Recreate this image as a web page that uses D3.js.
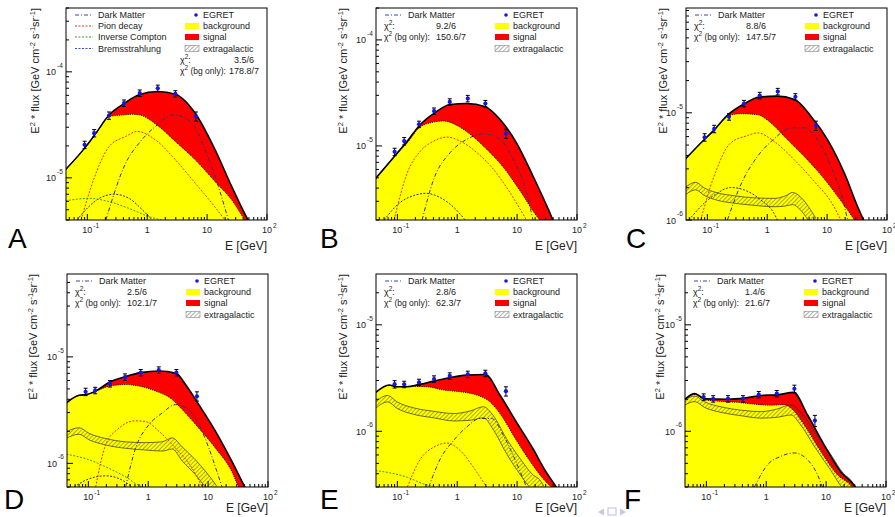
<!doctype html>
<html lang="en">
<head>
<meta charset="UTF-8">
<title>EGRET diffuse gamma spectra</title>
<script src="https://cdnjs.cloudflare.com/ajax/libs/d3/7.8.5/d3.min.js"></script>
<style>
    body { margin: 0; background: #fff; }
    svg text { font-family: "Liberation Sans", Arial, Helvetica, sans-serif; fill: #222; }
</style>
</head>
<body>
<div id="Area"></div>
<script>
    // ---- data (E in GeV, E^2*flux in GeV cm^-2 s^-1 sr^-1) ----
    const panelIds = ["A", "B", "C", "D", "E", "F"];
    const yMin = [4e-6, 2e-6, 1e-6, 6e-7, 3e-7, 3e-7];
    const yMax = [4e-4, 2e-4, 9.5e-5, 6e-5, 3e-5, 3e-5];
    const chi2Fit = ["3.5/6", "9.2/6", "8.8/6", "2.5/6", "2.8/6", "1.4/6"];
    const chi2Bg = ["178.8/7", "150.6/7", "147.5/7", "102.1/7", "62.3/7", "21.6/7"];
    const xTicks = [0.1, 1, 10, 100];
    const xTickLabels = [["10", "-1"], ["1", ""], ["10", ""], ["10", "2"]];

    const egretE = [0.09, 0.13, 0.23, 0.41, 0.75, 1.5, 2.95, 6.5];
    const egretA = [2.05e-5, 2.64e-5, 3.87e-5, 5.07e-5, 6.3e-5, 7.0e-5, 6.2e-5, 3.8e-5];
    const egretB = [8.8e-6, 1.11e-5, 1.6e-5, 2.13e-5, 2.6e-5, 2.8e-5, 2.51e-5, 1.31e-5];
    const egretC = [5.91e-6, 7.08e-6, 9.17e-6, 1.22e-5, 1.45e-5, 1.58e-5, 1.41e-5, 7.6e-6];
    const egretD = [4.7e-6, 4.84e-6, 5.6e-6, 6.47e-6, 7.11e-6, 7.53e-6, 7.11e-6, 4.27e-6];
    const egretEE = [2.77e-6, 2.76e-6, 2.88e-6, 3.1e-6, 3.31e-6, 3.43e-6, 3.5e-6, 2.38e-6];
    const egretF = [2.1e-6, 2.02e-6, 2.02e-6, 2.02e-6, 2.21e-6, 2.26e-6, 2.51e-6, 1.26e-6];
    // relative error bars
    const errA = [0.08, 0.08, 0.08, 0.07, 0.07, 0.07, 0.07, 0.1];
    const errB = [0.08, 0.08, 0.07, 0.07, 0.07, 0.07, 0.07, 0.1];
    const errC = [0.08, 0.08, 0.07, 0.07, 0.07, 0.07, 0.07, 0.1];
    const errD = [0.08, 0.07, 0.07, 0.07, 0.07, 0.07, 0.07, 0.1];
    const errE = [0.08, 0.07, 0.07, 0.07, 0.07, 0.07, 0.07, 0.1];
    const errF = [0.07, 0.07, 0.07, 0.07, 0.07, 0.07, 0.08, 0.12];

    // panel A
    const totalA = [[0.043, 1.19e-5], [0.095, 1.98e-5], [0.139, 2.64e-5], [0.232, 3.93e-5], [0.421, 5.06e-5], [0.728, 6.07e-5], [1.5, 6.52e-5], [2.95, 6.15e-5], [6.33, 4.07e-5], [13.6, 1.84e-5], [25.7, 8.3e-6], [48.4, 4.0e-6], [60, 3.3e-6]];
    const bgA = [[0.043, 1.19e-5], [0.095, 1.98e-5], [0.139, 2.6e-5], [0.232, 3.79e-5], [0.421, 3.93e-5], [0.563, 3.98e-5], [0.728, 3.93e-5], [1.56, 3.05e-5], [2.95, 2.2e-5], [6.33, 1.48e-5], [13.6, 9.2e-6], [25.7, 6.2e-6], [42.7, 4.0e-6], [55, 3.3e-6]];
    const dmA = [[0.204, 4e-6], [0.438, 1.38e-5], [0.728, 2.12e-5], [1.37, 3.05e-5], [2.77, 3.93e-5], [5.57, 3.28e-5], [9.27, 1.84e-5], [15.4, 8.3e-6], [22.6, 4e-6]];
    const pionA = [[0.0785, 4e-6], [0.139, 1.1e-5], [0.232, 1.98e-5], [0.438, 2.46e-5], [0.683, 2.74e-5], [1.37, 2.28e-5], [2.95, 1.48e-5], [6.33, 8.9e-6], [11.9, 5.8e-6], [19.9, 4e-6]];
    const icA = [[0.043, 6.07e-6], [0.108, 6.4e-6], [0.232, 5.95e-6], [0.563, 5e-6], [1.07, 4.3e-6], [1.77, 4e-6]];
    const bremsA = [[0.0666, 4e-6], [0.108, 5.4e-6], [0.158, 6.4e-6], [0.281, 7.0e-6], [0.497, 6.4e-6], [0.826, 5e-6], [1.21, 4e-6]];

    // panel B
    const totalB = [[0.043, 4.9e-6], [0.096, 8.35e-6], [0.147, 1.11e-5], [0.234, 1.56e-5], [0.42, 2.05e-5], [0.766, 2.46e-5], [1.445, 2.51e-5], [2.95, 2.34e-5], [5.16, 1.78e-5], [9.75, 1.07e-5], [18.4, 5.2e-6], [34.8, 2.37e-6], [39.5, 2.0e-6], [48, 1.6e-6]];
    const bgB = [[0.043, 4.9e-6], [0.096, 8.35e-6], [0.147, 1.07e-5], [0.234, 1.49e-5], [0.406, 1.68e-5], [0.593, 1.72e-5], [0.986, 1.56e-5], [1.64, 1.29e-5], [3.1, 9.3e-6], [5.87, 6.3e-6], [11.1, 3.8e-6], [20.9, 2.2e-6], [23.8, 2.0e-6], [30, 1.6e-6]];
    const dmB = [[0.259, 2e-6], [0.406, 4.87e-6], [0.766, 8.66e-6], [1.445, 1.155e-5], [2.73, 1.3e-5], [5.16, 1.155e-5], [8.59, 7.5e-6], [14.3, 3.65e-6], [18.4, 2e-6]];
    const pionB = [[0.0881, 2e-6], [0.147, 5.6e-6], [0.244, 8.97e-6], [0.406, 1.11e-5], [0.674, 1.21e-5], [1.12, 1.11e-5], [2.12, 8.66e-6], [4.0, 6.04e-6], [7.55, 3.65e-6], [14.3, 2e-6]];
    const bremsB = [[0.0601, 2e-6], [0.1135, 2.95e-6], [0.189, 3.4e-6], [0.295, 3.57e-6], [0.522, 3.25e-6], [0.869, 2.64e-6], [1.36, 2e-6]];

    // panel C
    const totalC = [[0.042, 3.65e-6], [0.088, 5.6e-6], [0.129, 6.9e-6], [0.222, 9.6e-6], [0.4, 1.2e-5], [0.731, 1.4e-5], [1.445, 1.43e-5], [2.86, 1.33e-5], [5.36, 9.3e-6], [10.2, 5.6e-6], [19.4, 2.74e-6], [32.4, 1.33e-6], [40.8, 1e-6], [48, 0.85e-6]];
    const bgC = [[0.042, 3.65e-6], [0.088, 5.6e-6], [0.129, 6.8e-6], [0.216, 9.3e-6], [0.361, 9.8e-6], [0.687, 9.6e-6], [1.15, 8.05e-6], [2.18, 5.6e-6], [4.14, 3.92e-6], [7.87, 2.64e-6], [15.0, 1.66e-6], [28.5, 1e-6], [34, 0.85e-6]];
    const dmC = [[0.216, 1e-6], [0.361, 2.13e-6], [0.687, 3.92e-6], [1.3, 5.7e-6], [2.48, 7.24e-6], [4.14, 7.24e-6], [6.92, 5.6e-6], [11.6, 3.16e-6], [17.0, 1.78e-6], [22.0, 1e-6]];
    const pionC = [[0.0773, 1e-6], [0.129, 2.55e-6], [0.245, 5.23e-6], [0.467, 6.13e-6], [0.687, 6.5e-6], [1.3, 5.42e-6], [2.82, 3.65e-6], [6.09, 2.29e-6], [11.6, 1.48e-6], [17.0, 1e-6]];
    const bremsC = [[0.0493, 1e-6], [0.088, 1.43e-6], [0.147, 1.78e-6], [0.245, 2.01e-6], [0.41, 1.91e-6], [0.78, 1.54e-6], [1.3, 1.15e-6], [1.48, 1e-6]];
    const egC = [[0.042, 1.85e-6, 0.08], [0.0638, 2.08e-6, 0.08], [0.088, 1.85e-6, 0.08], [0.147, 1.66e-6, 0.08], [0.279, 1.56e-6, 0.08], [0.604, 1.49e-6, 0.08], [1.3, 1.46e-6, 0.09], [2.05, 1.52e-6, 0.11], [2.64, 1.6e-6, 0.13], [3.64, 1.43e-6, 0.14], [5.36, 1.07e-6, 0.15], [6.5, 0.9e-6, 0.15]];

    // panel D
    const totalD = [[0.043, 3.7e-6], [0.0699, 4.36e-6], [0.0926, 4.43e-6], [0.1325, 4.77e-6], [0.227, 5.8e-6], [0.409, 6.5e-6], [0.745, 7.11e-6], [1.51, 7.37e-6], [2.93, 7.0e-6], [4.19, 5.5e-6], [6.99, 3.56e-6], [13.3, 2.0e-6], [25.1, 1.04e-6], [41.9, 5.9e-7], [50, 5e-7]];
    const bgD = [[0.043, 3.7e-6], [0.0699, 4.33e-6], [0.0926, 4.4e-6], [0.151, 4.9e-6], [0.227, 5.32e-6], [0.419, 5.5e-6], [0.699, 5.32e-6], [1.33, 4.77e-6], [2.51, 3.98e-6], [3.69, 3.2e-6], [6.99, 2.14e-6], [13.3, 1.39e-6], [25.1, 8.3e-7], [32.4, 6e-7], [40, 5e-7]];
    const dmD = [[0.419, 6e-7], [0.615, 1.39e-6], [1.03, 2.31e-6], [1.71, 2.97e-6], [2.85, 3.56e-6], [4.76, 3.2e-6], [6.99, 2.31e-6], [10.3, 1.39e-6], [14.1, 8.3e-7], [17.1, 6e-7]];
    const pionD = [[0.1325, 6e-7], [0.194, 1.49e-6], [0.324, 2.14e-6], [0.615, 2.51e-6], [0.903, 2.47e-6], [1.51, 2.0e-6], [2.85, 1.39e-6], [5.41, 8.97e-7], [7.94, 6e-7]];
    const icD = [[0.043, 1.22e-6], [0.1026, 1.08e-6], [0.221, 8.97e-7], [0.419, 7.48e-7], [0.699, 6.2e-7], [0.8, 6e-7]];
    const bremsD = [[0.0577, 6e-7], [0.0903, 6.95e-7], [0.194, 7.64e-7], [0.324, 7.2e-7], [0.541, 6e-7]];
    const egD = [[0.043, 1.85e-6, 0.07], [0.0699, 2.02e-6, 0.07], [0.1026, 1.79e-6, 0.07], [0.194, 1.6e-6, 0.07], [0.419, 1.49e-6, 0.07], [0.903, 1.45e-6, 0.08], [1.71, 1.45e-6, 0.1], [2.51, 1.55e-6, 0.12], [3.69, 1.24e-6, 0.15], [6.15, 9.3e-7, 0.16], [9.03, 7.2e-7, 0.17], [11.7, 6.0e-7, 0.17], [14, 5.2e-7, 0.17]];

    // panel E
    const totalE = [[0.043, 2.3e-6], [0.0727, 2.72e-6], [0.1, 2.62e-6], [0.147, 2.62e-6], [0.234, 2.76e-6], [0.406, 2.96e-6], [0.766, 3.2e-6], [1.445, 3.37e-6], [2.95, 3.42e-6], [5.16, 2.19e-6], [9.75, 1.22e-6], [18.4, 6.86e-7], [30.6, 4.13e-7], [44.9, 3e-7], [52, 2.6e-7]];
    const bgE = [[0.043, 2.3e-6], [0.0727, 2.7e-6], [0.1, 2.62e-6], [0.166, 2.65e-6], [0.314, 2.62e-6], [0.593, 2.44e-6], [1.12, 2.35e-6], [2.12, 2.19e-6], [3.52, 1.89e-6], [5.16, 1.47e-6], [9.75, 8.2e-7], [18.4, 4.78e-7], [30.6, 3.33e-7], [37.1, 3e-7], [44, 2.6e-7]];
    const dmE = [[0.335, 3e-7], [0.522, 5.52e-7], [0.869, 8.2e-7], [1.445, 1.1e-6], [2.41, 1.32e-6], [3.76, 1.32e-6], [5.87, 9.2e-7], [8.59, 5.94e-7], [14.3, 3e-7]];
    const pionE = [[0.147, 3e-7], [0.244, 5.52e-7], [0.406, 7.1e-7], [0.674, 7.76e-7], [1.12, 6.6e-7], [2.12, 4.13e-7], [3.1, 3e-7]];
    const icE = [[0.043, 4.28e-7], [0.0777, 4.06e-7], [0.147, 3.7e-7], [0.277, 3.2e-7], [0.46, 3e-7]];
    const egE = [[0.043, 1.76e-6, 0.07], [0.0683, 2.03e-6, 0.07], [0.1, 1.76e-6, 0.07], [0.189, 1.55e-6, 0.07], [0.406, 1.44e-6, 0.07], [0.869, 1.36e-6, 0.08], [1.64, 1.41e-6, 0.1], [2.73, 1.52e-6, 0.12], [4.0, 1.22e-6, 0.15], [6.6, 7.4e-7, 0.16], [11.1, 4.78e-7, 0.17], [18.4, 3.33e-7, 0.17], [23.8, 3.0e-7, 0.17], [28, 2.6e-7, 0.17]];

    // panel F
    const totalF = [[0.043, 1.98e-6], [0.064, 2.26e-6], [0.094, 2.02e-6], [0.229, 2.0e-6], [0.433, 2.05e-6], [0.818, 2.17e-6], [1.55, 2.2e-6], [2.85, 2.32e-6], [4.88, 1.43e-6], [9.22, 7.5e-7], [17.4, 4.2e-7], [30.9, 3e-7], [36, 2.6e-7]];
    const bgF = [[0.043, 1.98e-6], [0.064, 2.22e-6], [0.094, 1.98e-6], [0.177, 1.91e-6], [0.336, 1.87e-6], [0.634, 1.8e-6], [1.2, 1.76e-6], [2.0, 1.78e-6], [2.75, 1.6e-6], [4.29, 1.15e-6], [8.12, 6.5e-7], [15.3, 3.93e-7], [27.2, 3e-7], [32, 2.6e-7]];
    const dmF = [[0.634, 3e-7], [1.06, 4.87e-7], [1.76, 5.83e-7], [2.93, 6.26e-7], [4.88, 5.42e-7], [7.15, 3.93e-7], [8.65, 3e-7]];
    const egF = [[0.043, 1.87e-6, 0.06], [0.064, 2.02e-6, 0.06], [0.094, 1.78e-6, 0.06], [0.177, 1.6e-6, 0.06], [0.381, 1.49e-6, 0.06], [0.818, 1.43e-6, 0.07], [1.55, 1.49e-6, 0.09], [2.58, 1.6e-6, 0.11], [3.78, 1.33e-6, 0.14], [6.3, 8.66e-7, 0.16], [11.9, 5.2e-7, 0.17], [19.8, 3.4e-7, 0.17], [25.5, 3.0e-7, 0.17], [30, 2.6e-7, 0.17]];

    // ---- layout ----
    const xDomain = [0.044, 100];
    const frames = {
        A: {x: 66, y: 8, w: 201, h: 212}, B: {x: 376, y: 8, w: 201, h: 212}, C: {x: 686, y: 8, w: 201, h: 212},
        D: {x: 67, y: 274, w: 201, h: 213}, E: {x: 376, y: 274, w: 201, h: 213}, F: {x: 685, y: 274, w: 201, h: 213}
    };
    const yTitleOff = {A: 31, B: 33, C: 23, D: 34, E: 33, F: 25};
    const letterX = {A: 8, B: 320, C: 626, D: 4, E: 320, F: 624};

    const styles = {
        dm: {stroke: "#2d3378", dash: "4,2,1,2", legend: "#3846b8"},
        pion: {stroke: "#e8341c", dash: "2,1.5", legend: "#e8341c"},
        ic: {stroke: "#3c9b2b", dash: "2,1.5", legend: "#3c9b2b"},
        brems: {stroke: "#2a3560", dash: "2,1.5", legend: "#3846c8"}
    };

    const panels = [
        {id: "A", total: totalA, bg: bgA, lines: [["brems", bremsA], ["ic", icA], ["pion", pionA], ["dm", dmA]], eg: null, pts: egretA, err: errA},
        {id: "B", total: totalB, bg: bgB, lines: [["brems", bremsB], ["pion", pionB], ["dm", dmB]], eg: null, pts: egretB, err: errB},
        {id: "C", total: totalC, bg: bgC, lines: [["brems", bremsC], ["pion", pionC], ["dm", dmC]], eg: egC, pts: egretC, err: errC},
        {id: "D", total: totalD, bg: bgD, lines: [["brems", bremsD], ["ic", icD], ["pion", pionD], ["dm", dmD]], eg: egD, pts: egretD, err: errD},
        {id: "E", total: totalE, bg: bgE, lines: [["ic", icE], ["pion", pionE], ["dm", dmE]], eg: egE, pts: egretEE, err: errE},
        {id: "F", total: totalF, bg: bgF, lines: [["dm", dmF]], eg: egF, pts: egretF, err: errF}
    ];

    const svg = d3.select("#Area").append("svg")
        .attr("width", 895)
        .attr("height", 517);

    const defs = svg.append("defs");
    const pat = defs.append("pattern")
        .attr("id", "hatch")
        .attr("patternUnits", "userSpaceOnUse")
        .attr("width", 3).attr("height", 3)
        .attr("patternTransform", "rotate(45)");
    pat.append("line").attr("x1", 0).attr("y1", 0).attr("x2", 0).attr("y2", 3)
        .attr("stroke", "#333").attr("stroke-width", 0.8);

    function minorTicks(domain) {
        const out = [];
        for (let d = -8; d <= 3; d++) {
            for (let k = 2; k <= 9; k++) {
                const v = k * Math.pow(10, d);
                if (v >= domain[0] && v <= domain[1]) out.push(v);
            }
        }
        return out;
    }

    panels.forEach((p, i) => {
        const f = frames[p.id];
        const topRow = i < 3;
        const g = svg.append("g").attr("transform", "translate(" + f.x + "," + f.y + ")");
        const x = d3.scaleLog().domain(xDomain).range([0, f.w]);
        const y = d3.scaleLog().domain([yMin[i], yMax[i]]).range([f.h, 0]);

        defs.append("clipPath").attr("id", "clip" + p.id)
            .append("rect").attr("width", f.w).attr("height", f.h);
        const plot = g.append("g").attr("clip-path", "url(#clip" + p.id + ")");

        const line = d3.line().x(d => x(d[0])).y(d => y(d[1])).curve(d3.curveMonotoneX);
        const area = d3.area().x(d => x(d[0])).y0(f.h).y1(d => y(d[1])).curve(d3.curveMonotoneX);

        // signal (red) under total, then background (yellow) on top
        plot.append("path").attr("d", area(p.total)).attr("fill", "#ff0000");
        plot.append("path").attr("d", area(p.bg)).attr("fill", "#ffff00");

        if (p.eg) {
            const band = d3.area().x(d => x(d[0]))
                .y0(d => y(d[1] * (1 - d[2])))
                .y1(d => y(d[1] * (1 + d[2])))
                .curve(d3.curveMonotoneX);
            plot.append("path").attr("d", band(p.eg)).attr("fill", "url(#hatch)");
            const hi = d3.line().x(d => x(d[0])).y(d => y(d[1] * (1 + d[2]))).curve(d3.curveMonotoneX);
            const lo = d3.line().x(d => x(d[0])).y(d => y(d[1] * (1 - d[2]))).curve(d3.curveMonotoneX);
            plot.append("path").attr("d", hi(p.eg)).attr("fill", "none").attr("stroke", "#333").attr("stroke-width", 0.7);
            plot.append("path").attr("d", lo(p.eg)).attr("fill", "none").attr("stroke", "#333").attr("stroke-width", 0.7);
        }

        p.lines.forEach(([key, data]) => {
            plot.append("path").attr("d", line(data))
                .attr("fill", "none")
                .attr("stroke", styles[key].stroke)
                .attr("stroke-width", 1)
                .attr("stroke-dasharray", styles[key].dash);
        });

        plot.append("path").attr("d", line(p.bg))
            .attr("fill", "none").attr("stroke", "#000")
            .attr("stroke-width", 1).attr("stroke-dasharray", "1,1.2");
        plot.append("path").attr("d", line(p.total))
            .attr("fill", "none").attr("stroke", "#000").attr("stroke-width", 1.6);

        // EGRET points
        const pts = g.append("g");
        egretE.forEach((e, j) => {
            const v = p.pts[j], er = p.err[j];
            const cx = x(e);
            pts.append("line").attr("x1", cx).attr("x2", cx)
                .attr("y1", y(v * (1 + er))).attr("y2", y(v * (1 - er)))
                .attr("stroke", "#000").attr("stroke-width", 1);
            [1 + er, 1 - er].forEach(fr => {
                pts.append("line").attr("x1", cx - 2).attr("x2", cx + 2)
                    .attr("y1", y(v * fr)).attr("y2", y(v * fr))
                    .attr("stroke", "#000").attr("stroke-width", 1);
            });
            pts.append("circle").attr("cx", cx).attr("cy", y(v)).attr("r", 2.1).attr("fill", "#1414f0");
        });

        // frame and ticks
        g.append("rect").attr("width", f.w).attr("height", f.h)
            .attr("fill", "none").attr("stroke", "#000").attr("stroke-width", 1);
        const tk = g.append("g").attr("stroke", "#000").attr("stroke-width", 1);
        minorTicks(xDomain).forEach(v => {
            tk.append("line").attr("x1", x(v)).attr("x2", x(v)).attr("y1", f.h).attr("y2", f.h - 3);
        });
        xTicks.forEach(v => {
            tk.append("line").attr("x1", x(v)).attr("x2", x(v)).attr("y1", f.h).attr("y2", f.h - 6);
        });
        minorTicks(y.domain()).forEach(v => {
            tk.append("line").attr("x1", 0).attr("x2", 3).attr("y1", y(v)).attr("y2", y(v));
        });
        const yMajors = [1e-7, 1e-6, 1e-5, 1e-4, 1e-3].filter(v => v >= yMin[i] * 0.999 && v <= yMax[i]);
        yMajors.forEach(v => {
            tk.append("line").attr("x1", 0).attr("x2", 6).attr("y1", y(v)).attr("y2", y(v));
        });

        // tick labels
        xTicks.forEach((v, j) => {
            const [b, ex] = xTickLabels[j];
            g.append("text").attr("x", x(v)).attr("y", f.h + 13)
                .attr("text-anchor", "middle").attr("font-size", "9px").text(b);
            if (ex) {
                g.append("text").attr("x", x(v) + 6).attr("y", f.h + 7.5)
                    .attr("font-size", "6.5px").text(ex);
            }
        });
        yMajors.forEach(v => {
            const ex = Math.round(Math.log10(v));
            g.append("text").attr("x", -10).attr("y", y(v) + 3.5)
                .attr("text-anchor", "end").attr("font-size", "9px").text("10");
            g.append("text").attr("x", -9).attr("y", y(v) - 4)
                .attr("font-size", "6.5px").text(String(ex));
        });

        // axis titles
        g.append("text").attr("x", f.w).attr("y", f.h + (topRow ? 30 : 25))
            .attr("text-anchor", "end").attr("font-size", "12px").text("E [GeV]");
        const yt = g.append("text")
            .attr("transform", "translate(" + (-yTitleOff[p.id] + 4) + ",0) rotate(-90)")
            .attr("text-anchor", "end").attr("font-size", "11px");
        yt.append("tspan").text("E");
        yt.append("tspan").attr("dy", -4).attr("font-size", "7.5px").text("2");
        yt.append("tspan").attr("dy", 4).text(" * flux [GeV cm");
        yt.append("tspan").attr("dy", -4).attr("font-size", "7.5px").text("-2");
        yt.append("tspan").attr("dy", 4).text(" s");
        yt.append("tspan").attr("dy", -4).attr("font-size", "7.5px").text("-1");
        yt.append("tspan").attr("dy", 4).text("sr");
        yt.append("tspan").attr("dy", -4).attr("font-size", "7.5px").text("-1");
        yt.append("tspan").attr("dy", 4).text("]");

        // panel letter
        svg.append("text").attr("x", letterX[p.id]).attr("y", f.y + f.h + (topRow ? 28 : 22))
            .attr("font-size", "28px").style("fill", "#000").text(p.id);

        // legend
        const rows = [7, 18, 29, 40.5];
        const leftItems = p.id === "A"
            ? [["Dark Matter", "dm"], ["Pion decay", "pion"], ["Inverse Compton", "ic"], ["Bremsstrahlung", "brems"]]
            : [["Dark Matter", "dm"]];
        leftItems.forEach(([label, key], r) => {
            g.append("line").attr("x1", 9).attr("x2", 27).attr("y1", rows[r]).attr("y2", rows[r])
                .attr("stroke", styles[key].legend).attr("stroke-width", 1)
                .attr("stroke-dasharray", styles[key].dash);
            g.append("text").attr("x", 32).attr("y", rows[r] + 3).attr("font-size", "9px").text(label);
        });
        const isA = p.id === "A";
        const chiRows = isA ? [52, 63] : [18, 29];
        const chiX = isA ? 114 : 8;
        const c1 = g.append("text").attr("x", chiX).attr("y", chiRows[0] + 3).attr("font-size", "9px");
        c1.append("tspan").text("\u03c7");
        c1.append("tspan").attr("dy", -4).attr("font-size", "6.5px").text("2");
        c1.append("tspan").attr("dy", 4).text(":");
        g.append("text").attr("x", isA ? 188 : 60).attr("y", chiRows[0] + 3)
            .attr("text-anchor", isA ? "end" : "start").attr("font-size", "9px").text(chi2Fit[i]);
        const c2 = g.append("text").attr("x", chiX).attr("y", chiRows[1] + 3).attr("font-size", "8.5px");
        c2.append("tspan").text("\u03c7");
        c2.append("tspan").attr("dy", -4).attr("font-size", "6.5px").text("2");
        c2.append("tspan").attr("dy", 4).text(" (bg only):");
        g.append("text").attr("x", isA ? 193 : 60).attr("y", chiRows[1] + 3)
            .attr("text-anchor", isA ? "end" : "start").attr("font-size", "9px").text(chi2Bg[i]);

        g.append("circle").attr("cx", 130).attr("cy", rows[0]).attr("r", 1.8).attr("fill", "#1414f0");
        g.append("text").attr("x", 137).attr("y", rows[0] + 3).attr("font-size", "9px").text("EGRET");
        [["background", "#ffff00"], ["signal", "#ff0000"], ["extragalactic", "url(#hatch)"]].forEach(([label, fill], r) => {
            g.append("rect").attr("x", 119).attr("y", rows[r + 1] - 3).attr("width", 14).attr("height", 6)
                .attr("fill", fill).attr("stroke", r === 2 ? "#888" : "none").attr("stroke-width", 0.6);
            g.append("text").attr("x", 137).attr("y", rows[r + 1] + 3).attr("font-size", "9px").text(label);
        });
    });

    // slide navigation marks in the lower right corner
    const nav = svg.append("g").attr("fill", "#c8c8ea");
    nav.append("path").attr("d", "M598,512 L604,508.5 L604,515.5 Z");
    nav.append("rect").attr("x", 608).attr("y", 508).attr("width", 8).attr("height", 7)
        .attr("fill", "none").attr("stroke", "#c8c8ea").attr("stroke-width", 1.2);
    nav.append("path").attr("d", "M620,508.5 L626,512 L620,515.5 Z");
</script>
</body>
</html>
